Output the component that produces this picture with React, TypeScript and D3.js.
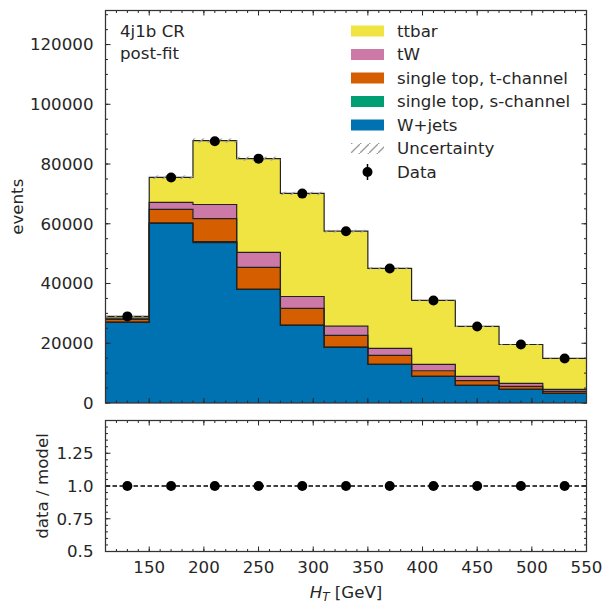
import React from "react";
import * as d3 from "d3";

// ---- data ----
const binEdges = [110, 150, 190, 230, 270, 310, 350, 390, 430, 470, 510, 550];
const binCenters = [130, 170, 210, 250, 290, 330, 370, 410, 450, 490, 530];
const wjets = [27000, 60100, 53700, 38000, 26000, 18600, 12900, 8900, 5900, 4550, 3200];
const stS = [100, 200, 350, 150, 100, 80, 60, 40, 30, 20, 15];
const stT = [900, 4500, 7700, 7250, 5550, 3950, 3000, 1850, 1530, 1000, 680];
const tW = [400, 2350, 4700, 5000, 4000, 3100, 2330, 2150, 1470, 1010, 660];
const ttbar = [600, 8400, 21400, 31400, 34500, 31800, 26800, 21400, 16700, 13000, 10400];
const dataVals = [29000, 75500, 87600, 81800, 70100, 57500, 45000, 34300, 25600, 19600, 14900];
const ratioVals = [1.0, 1.0, 1.0, 1.0, 1.0, 1.0, 1.0, 1.0, 1.0, 1.0, 1.0];
const uncFrac = [0.008, 0.008, 0.008, 0.008, 0.008, 0.008, 0.008, 0.008, 0.008, 0.008, 0.008];

const seriesNames = ["W+jets", "single top, s-channel", "single top, t-channel", "tW", "ttbar"];
const seriesColors = ["#0072b2", "#009e73", "#d55e00", "#cc79a7", "#f0e442"];
const seriesValues = [wjets, stS, stT, tW, ttbar];

const xTicks = [150, 200, 250, 300, 350, 400, 450, 500, 550];
const yTicks = [0, 20000, 40000, 60000, 80000, 100000, 120000];
const rTicks = [0.5, 0.75, 1.0, 1.25];
const rTickLabels = ["0.5", "0.75", "1.0", "1.25"];

const TXT = "#262626";
const FONT = "DejaVu Sans, sans-serif";
const FS = 16.67;

export default function App() {
  const L = 105.5, R = 586.5, T = 10.5, B = 403, RT = 420.5, RB = 551.5;
  const maxData = d3.max(dataVals) as number;
  const x = d3.scaleLinear().domain([110, 550]).range([L, R]);
  const y = d3.scaleLinear().domain([0, maxData * 1.5]).range([B, T]);
  const yr = d3.scaleLinear().domain([0.5, 1.5]).range([RB, RT]);

  const rows = binCenters.map((c, i) => {
    const o: any = { i };
    seriesNames.forEach((n, k) => (o[n] = seriesValues[k][i]));
    return o;
  });
  const stack = d3.stack<any>().keys(seriesNames)(rows);
  const totals = rows.map((r) => seriesNames.reduce((s, n) => s + r[n], 0));

  const layerPath = (layer: any) => {
    let top = "";
    let bot = "";
    layer.forEach((d: any, i: number) => {
      const x0 = x(binEdges[i]), x1 = x(binEdges[i + 1]);
      top += `${i === 0 ? "M" : "L"}${x0},${y(d[1])}L${x1},${y(d[1])}`;
    });
    for (let i = layer.length - 1; i >= 0; i--) {
      const x0 = x(binEdges[i]), x1 = x(binEdges[i + 1]);
      bot += `L${x1},${y(layer[i][0])}L${x0},${y(layer[i][0])}`;
    }
    return { fill: top + bot + "Z", line: top };
  };

  const xMinor = d3.range(110, 551, 10);
  const yMinor = d3.range(0, maxData * 1.5, 5000);
  const rMinor = d3.range(0.5, 1.5001, 0.05);

  const tickStyle = { stroke: TXT, strokeWidth: 1 };

  const frameTicks = (top: number, bottom: number, yScale: any, majors: number[], minors: number[]) => (
    <g>
      {xMinor.map((v) => (
        <g key={"xm" + v}>
          <line x1={x(v)} x2={x(v)} y1={bottom} y2={bottom - 2.5} {...tickStyle} />
          <line x1={x(v)} x2={x(v)} y1={top} y2={top + 2.5} {...tickStyle} />
        </g>
      ))}
      {xTicks.map((v) => (
        <g key={"xM" + v}>
          <line x1={x(v)} x2={x(v)} y1={bottom} y2={bottom - 5} {...tickStyle} />
          <line x1={x(v)} x2={x(v)} y1={top} y2={top + 5} {...tickStyle} />
        </g>
      ))}
      {minors.map((v) => (
        <g key={"ym" + v}>
          <line x1={L} x2={L + 2.5} y1={yScale(v)} y2={yScale(v)} {...tickStyle} />
          <line x1={R} x2={R - 2.5} y1={yScale(v)} y2={yScale(v)} {...tickStyle} />
        </g>
      ))}
      {majors.map((v) => (
        <g key={"yM" + v}>
          <line x1={L} x2={L + 5} y1={yScale(v)} y2={yScale(v)} {...tickStyle} />
          <line x1={R} x2={R - 5} y1={yScale(v)} y2={yScale(v)} {...tickStyle} />
        </g>
      ))}
    </g>
  );

  const legendY = [31, 54.5, 78, 101.5, 125, 148.5, 172];
  const legendItems = [4, 3, 2, 1, 0];

  return (
    <svg width={611} height={611} style={{ position: "absolute", left: 0, top: 0, fontFamily: FONT }}>
      <defs>
        <pattern id="hatch" patternUnits="userSpaceOnUse" width="9" height="9">
          <path d="M-1,10 L10,-1" stroke="#9a9a9a" strokeWidth="1.3" />
        </pattern>
        <clipPath id="mainclip">
          <rect x={L} y={T} width={R - L} height={B - T} />
        </clipPath>
      </defs>
      <rect x={0} y={0} width={611} height={611} fill="#fff" />

      <g clipPath="url(#mainclip)">
        {stack.map((layer, k) => {
          const p = layerPath(layer);
          return <path key={"f" + k} d={p.fill} fill={seriesColors[k]} stroke="none" />;
        })}
        {stack.map((layer, k) => {
          const p = layerPath(layer);
          return <path key={"l" + k} d={p.line} fill="none" stroke="#222" strokeWidth={1.2} />;
        })}
        {totals.map((t, i) => (
          <rect
            key={"u" + i}
            x={x(binEdges[i])}
            width={x(binEdges[i + 1]) - x(binEdges[i])}
            y={y(t * (1 + uncFrac[i]))}
            height={y(t * (1 - uncFrac[i])) - y(t * (1 + uncFrac[i]))}
            fill="url(#hatch)"
          />
        ))}
        {dataVals.map((v, i) => (
          <g key={"d" + i}>
            <line x1={x(binCenters[i])} x2={x(binCenters[i])} y1={y(v + Math.sqrt(v))} y2={y(v - Math.sqrt(v))} stroke="#000" strokeWidth={1.5} />
            <circle cx={x(binCenters[i])} cy={y(v)} r={5} fill="#000" />
          </g>
        ))}
      </g>

      {frameTicks(T, B, y, yTicks, yMinor)}
      <rect x={L} y={T} width={R - L} height={B - T} fill="none" stroke="#333" strokeWidth={1.25} />

      {yTicks.map((v) => (
        <text key={"yl" + v} x={L - 12} y={y(v)} dy="0.35em" textAnchor="end" fontSize={FS} fill={TXT}>
          {v}
        </text>
      ))}
      <text transform={`translate(23,${(T + B) / 2}) rotate(-90)`} textAnchor="middle" fontSize={FS} fill={TXT}>
        events
      </text>

      <text x={120} y={37} fontSize={FS} fill={TXT}>4j1b CR</text>
      <text x={120} y={59} fontSize={FS} fill={TXT}>post-fit</text>

      {legendItems.map((k, j) => (
        <g key={"lg" + k}>
          <rect x={351} y={legendY[j] - 5.5} width={33} height={11} fill={seriesColors[k]} />
          <text x={397} y={legendY[j]} dy="0.35em" fontSize={FS} fill={TXT}>
            {seriesNames[k]}
          </text>
        </g>
      ))}
      <rect x={351} y={legendY[5] - 5.5} width={33} height={11} fill="url(#hatch)" />
      <text x={397} y={legendY[5]} dy="0.35em" fontSize={FS} fill={TXT}>Uncertainty</text>
      <line x1={367.5} x2={367.5} y1={legendY[6] - 8} y2={legendY[6] + 8} stroke="#000" strokeWidth={1.5} />
      <circle cx={367.5} cy={legendY[6]} r={5} fill="#000" />
      <text x={397} y={legendY[6]} dy="0.35em" fontSize={FS} fill={TXT}>Data</text>

      <line x1={L} x2={R} y1={yr(1)} y2={yr(1)} stroke="#000" strokeWidth={1.3} strokeDasharray="4.5,2.5" />
      {ratioVals.map((v, i) => (
        <circle key={"r" + i} cx={x(binCenters[i])} cy={yr(v)} r={5} fill="#000" />
      ))}
      {frameTicks(RT, RB, yr, rTicks, rMinor)}
      <rect x={L} y={RT} width={R - L} height={RB - RT} fill="none" stroke="#333" strokeWidth={1.25} />
      {rTicks.map((v, i) => (
        <text key={"rl" + v} x={L - 12} y={yr(v)} dy="0.35em" textAnchor="end" fontSize={FS} fill={TXT}>
          {rTickLabels[i]}
        </text>
      ))}
      {xTicks.map((v) => (
        <text key={"xl" + v} x={x(v)} y={RB + 21} textAnchor="middle" fontSize={FS} fill={TXT}>
          {v}
        </text>
      ))}
      <text transform={`translate(48,${(RT + RB) / 2}) rotate(-90)`} textAnchor="middle" fontSize={FS} fill={TXT}>
        data / model
      </text>
      <text x={(L + R) / 2} y={598} textAnchor="middle" fontSize={FS} fill={TXT}>
        <tspan fontStyle="italic">H</tspan>
        <tspan fontStyle="italic" fontSize={12} dy={3}>T</tspan>
        <tspan dy={-3}> [GeV]</tspan>
      </text>
    </svg>
  );
}
